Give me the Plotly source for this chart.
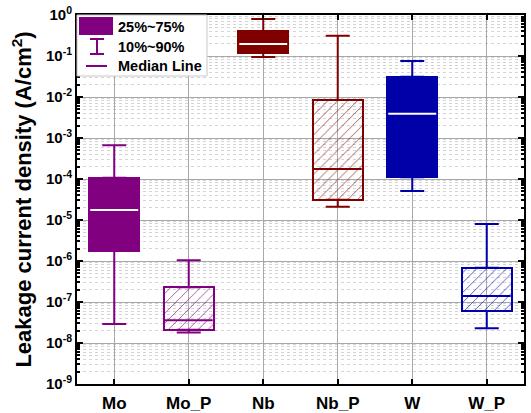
import plotly.graph_objects as go

# ---- data ----
categories = ["Mo", "Mo_P", "Nb", "Nb_P", "W", "W_P"]
p10 = [2.9e-8, 1.8e-8, 0.095, 2.1e-5, 5.1e-5, 2.3e-8]
p25 = [1.75e-6, 2.1e-8, 0.118, 3.1e-5, 1.1e-4, 6.0e-8]
p50 = [1.75e-5, 3.6e-8, 0.195, 1.75e-4, 3.9e-3, 1.4e-7]
p75 = [1.07e-4, 2.3e-7, 0.41, 8.5e-3, 0.031, 6.8e-7]
p90 = [6.7e-4, 1.05e-6, 0.80, 0.31, 0.076, 8.0e-6]
hatched = [False, True, False, True, False, True]

tick_exponents = list(range(-9, 1))
tick_values = [10.0 ** e for e in tick_exponents]
tick_labels = ["10<sup>%d</sup>" % e for e in tick_exponents]
legend_labels = ["25%~75%", "10%~90%", "Median Line"]

# ---- styles ----
PURPLE = "#800080"
DRED = "#800000"
BLUE = "#0000A8"
colors = [PURPLE, PURPLE, DRED, DRED, BLUE, BLUE]
FONT = "Liberation Sans, Arial, sans-serif"

W, H = 531, 413
ML, MR, MT, MB = 77, 7, 15, 29
BOX_W = 0.67

fig = go.Figure()

# boxes (25%-75%)
fig.add_trace(go.Bar(
    x=categories,
    y=[q3 - q1 for q1, q3 in zip(p25, p75)],
    base=p25,
    width=BOX_W,
    marker=dict(
        color=colors,
        line=dict(color=colors, width=2),
        pattern=dict(
            shape=["/" if h else "" for h in hatched],
            fgcolor=colors,
            bgcolor="rgba(0,0,0,0)",
            fillmode="replace",
            size=7,
            solidity=0.12,
            fgopacity=0.75,
        ),
    ),
    showlegend=False,
    hoverinfo="skip",
))

# whiskers (10%-90%) per colour group
for col in [PURPLE, DRED, BLUE]:
    idx = [i for i, c in enumerate(colors) if c == col]
    xs = [categories[i] for i in idx]
    fig.add_trace(go.Scatter(
        x=xs, y=[p75[i] for i in idx], mode="markers",
        marker=dict(size=1, color="rgba(0,0,0,0)"),
        error_y=dict(type="data", symmetric=False,
                     array=[p90[i] - p75[i] for i in idx],
                     arrayminus=[0] * len(idx),
                     color=col, thickness=2, width=12),
        showlegend=False, hoverinfo="skip",
    ))
    fig.add_trace(go.Scatter(
        x=xs, y=[p25[i] for i in idx], mode="markers",
        marker=dict(size=1, color="rgba(0,0,0,0)"),
        error_y=dict(type="data", symmetric=False,
                     array=[0] * len(idx),
                     arrayminus=[p25[i] - p10[i] for i in idx],
                     color=col, thickness=2, width=12),
        showlegend=False, hoverinfo="skip",
    ))

# median lines (line-ew symbol length is 1.4 x size)
plot_w = W - ML - MR
box_px = BOX_W * plot_w / len(categories)
fig.add_trace(go.Scatter(
    x=categories, y=p50, mode="markers",
    marker=dict(symbol="line-ew", size=(box_px - 2) / 1.4,
                line=dict(color=[c if h else "white" for c, h in zip(colors, hatched)], width=2)),
    showlegend=False, hoverinfo="skip",
))

# ---- manual legend (pixel -> paper helpers) ----
plot_h = H - MT - MB
def px(x):
    return (x - ML) / plot_w
def py(y):
    return (H - MB - y) / plot_h

shapes = [
    dict(type="rect", xref="paper", yref="paper", x0=px(77), x1=px(207), y0=py(76), y1=py(15),
         fillcolor="white", line=dict(color="#c8c8c8", width=1), layer="above"),
    dict(type="rect", xref="paper", yref="paper", x0=px(79), x1=px(113), y0=py(35), y1=py(17),
         fillcolor=PURPLE, line=dict(width=0), layer="above"),
    dict(type="line", xref="paper", yref="paper", x0=px(97), x1=px(97), y0=py(54), y1=py(39),
         line=dict(color=PURPLE, width=2), layer="above"),
    dict(type="line", xref="paper", yref="paper", x0=px(90), x1=px(104), y0=py(39), y1=py(39),
         line=dict(color=PURPLE, width=2), layer="above"),
    dict(type="line", xref="paper", yref="paper", x0=px(90), x1=px(104), y0=py(54), y1=py(54),
         line=dict(color=PURPLE, width=2), layer="above"),
    dict(type="line", xref="paper", yref="paper", x0=px(86), x1=px(107), y0=py(66), y1=py(66),
         line=dict(color=PURPLE, width=2), layer="above"),
]
annotations = []
for lab, yy in zip(legend_labels, [27, 47, 66]):
    annotations.append(dict(
        text=lab, xref="paper", yref="paper", x=px(116), y=py(yy),
        xanchor="left", yanchor="middle", showarrow=False,
        font=dict(family=FONT, size=14.5, color="black", weight="bold"),
    ))

fig.update_layout(
    width=W, height=H,
    margin=dict(l=ML, r=MR, t=MT, b=MB, pad=0, autoexpand=False),
    paper_bgcolor="white", plot_bgcolor="white",
    font=dict(family=FONT, color="black"),
    bargap=0,
    shapes=shapes,
    annotations=annotations,
)

fig.update_xaxes(
    type="category", automargin=False,
    range=[-0.5, len(categories) - 0.5],
    showgrid=True, gridcolor="#a8a8a8", gridwidth=1,
    showline=True, linecolor="black", linewidth=2, mirror="ticks",
    ticks="inside", ticklen=5, tickwidth=1.5, tickcolor="black",
    tickfont=dict(family=FONT, size=17, weight="bold", color="black"),
    ticklabelstandoff=3,
    zeroline=False,
)
fig.update_yaxes(
    type="log", automargin=False,
    range=[-9, 0],
    tickmode="array", tickvals=tick_values, ticktext=tick_labels,
    showgrid=True, gridcolor="#a8a8a8", gridwidth=1,
    minor=dict(dtick="D1", showgrid=True, gridcolor="#d4d4d4", griddash="dot",
               ticks="inside", ticklen=3, tickcolor="black"),
    showline=True, linecolor="black", linewidth=2, mirror="ticks",
    ticks="inside", ticklen=6, tickwidth=1.5, tickcolor="black",
    tickfont=dict(family=FONT, size=15, weight="bold", color="black"),
    title=dict(text="Leakage current density (A/cm<sup>2</sup>)",
               font=dict(family=FONT, size=22, weight="bold", color="black"),
               standoff=8),
    zeroline=False,
)

fig.write_html("out.html", config={"displayModeBar": False},
               post_script="document.body.style.margin='0';")
